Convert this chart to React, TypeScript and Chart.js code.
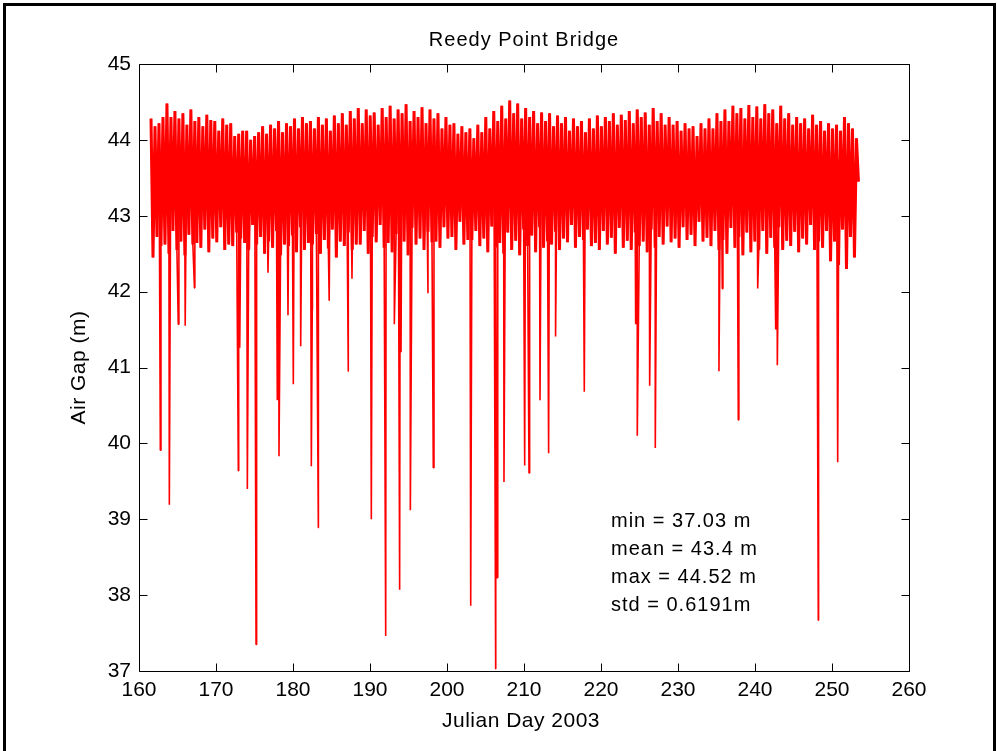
import { useEffect, useRef } from 'react';
import { Chart, registerables } from 'chart.js';

Chart.register(...registerables);

const TITLE = 'Reedy Point Bridge';
const X_LABEL = 'Julian Day 2003';
const Y_LABEL = 'Air Gap (m)';
const STATS_LINES = ['min = 37.03 m', 'mean = 43.4 m', 'max = 44.52 m', 'std = 0.6191m'];

const X_MIN = 160;
const X_MAX = 260;
const X_STEP = 10;
const Y_MIN = 37;
const Y_MAX = 45;
const Y_STEP = 1;

// sampling of the tidal extremes (day of first high water, half tidal cycle in days)
const TIDE_START_DAY = 161.56;
const HALF_TIDE_DAYS = 0.2588;

// successive high waters (m)
const HIGH_WATER = [
  44.28, 44.18, 44.22, 44.3, 44.48, 44.3, 44.38, 44.28, 44.35, 44.2,
  44.4, 44.25, 44.3, 44.18, 44.33, 44.26, 44.25, 44.12, 44.28, 44.2,
  44.22, 44.05, 44.08, 44.12, 44.12, 44.0, 44.05, 44.1, 44.18, 44.08,
  44.2, 44.15, 44.25, 44.1, 44.22, 44.18, 44.28, 44.15, 44.3, 44.22,
  44.25, 44.15, 44.3, 44.2, 44.28, 44.12, 44.32, 44.22, 44.35, 44.2,
  44.38, 44.28, 44.42, 44.22, 44.4, 44.32, 44.36, 44.2, 44.42, 44.3,
  44.45, 44.28, 44.4, 44.35, 44.47, 44.25, 44.38, 44.3, 44.43, 44.22,
  44.4, 44.28, 44.35, 44.15, 44.3, 44.2, 44.22, 44.08, 44.18, 44.1,
  44.15, 44.02, 44.2, 44.1, 44.3, 44.15, 44.38, 44.25, 44.45, 44.28,
  44.52, 44.35, 44.48, 44.28, 44.42, 44.3, 44.38, 44.22, 44.36, 44.25,
  44.35, 44.18, 44.32, 44.22, 44.3, 44.12, 44.28, 44.18, 44.25, 44.1,
  44.28, 44.15, 44.32, 44.18, 44.3, 44.25, 44.35, 44.2, 44.33, 44.26,
  44.38, 44.22, 44.4, 44.3, 44.36, 44.2, 44.42, 44.25, 44.35, 44.2,
  44.3, 44.2, 44.25, 44.12, 44.22, 44.15, 44.18, 44.05, 44.22, 44.15,
  44.28, 44.15, 44.35, 44.25, 44.4, 44.25, 44.45, 44.35, 44.42, 44.28,
  44.46, 44.3, 44.44, 44.28, 44.47, 44.35, 44.4, 44.22, 44.45, 44.28,
  44.35, 44.2, 44.3, 44.22, 44.28, 44.15, 44.33, 44.2, 44.25, 44.12,
  44.22, 44.15, 44.2, 44.12, 44.3, 44.22, 44.15, 44.02,
];

// successive low waters (m)
const LOW_WATER = [
  42.45, 42.72, 42.6, 42.62, 42.5, 42.8, 42.55, 42.66, 42.48, 42.75,
  42.62, 42.64, 42.58, 42.82, 42.52, 42.7, 42.65, 42.85, 42.55, 42.62,
  42.6, 42.78, 42.7, 42.64, 42.55, 42.88, 42.62, 42.72, 42.5, 42.66,
  42.58, 42.8, 42.48, 42.62, 42.6, 42.74, 42.52, 42.85, 42.55, 42.64,
  42.62, 42.76, 42.5, 42.68, 42.57, 42.82, 42.45, 42.66, 42.6, 42.78,
  42.55, 42.62, 42.62, 42.8, 42.5, 42.72, 42.65, 42.88, 42.58, 42.64,
  42.52, 42.76, 42.6, 42.66, 42.48, 42.84, 42.62, 42.7, 42.55, 42.79,
  42.65, 42.66, 42.58, 42.85, 42.7, 42.72, 42.55, 42.92, 42.62, 42.68,
  42.68, 42.8, 42.6, 42.7, 42.52, 42.86, 42.58, 42.64, 42.5, 42.78,
  42.55, 42.67, 42.48, 42.82, 42.6, 42.74, 42.52, 42.85, 42.58, 42.66,
  42.62, 42.79, 42.55, 42.7, 42.65, 42.88, 42.58, 42.72, 42.68, 42.82,
  42.6, 42.64, 42.55, 42.8, 42.62, 42.71, 42.5, 42.84, 42.58, 42.67,
  42.55, 42.78, 42.6, 42.66, 42.52, 42.82, 42.58, 42.72, 42.62, 42.86,
  42.65, 42.7, 42.58, 42.85, 42.68, 42.75, 42.6, 42.92, 42.66, 42.71,
  42.6, 42.8, 42.55, 42.68, 42.5, 42.84, 42.58, 42.72, 42.48, 42.78,
  42.52, 42.66, 42.55, 42.8, 42.5, 42.71, 42.58, 42.85, 42.55, 42.67,
  42.6, 42.79, 42.52, 42.7, 42.62, 42.88, 42.55, 42.66, 42.58, 42.8,
  42.4, 42.66, 42.35, 42.82, 42.3, 42.72, 42.45, 43.45,
];

// sensor drop-outs (day, m)
const DROPOUT_DAYS = [
  162.77, 163.94, 165.1, 166.0, 167.2, 172.9, 173.08, 174.07, 175.2, 176.75,
  177.96, 178.18, 179.35, 180.04, 181.0, 182.38, 182.5, 183.29, 184.7, 187.18,
  187.66, 190.17, 192.04, 193.16, 193.85, 194.03, 195.24, 197.53, 198.22, 203.08,
  206.32, 206.5, 207.4, 210.09, 210.65, 212.08, 213.2, 214.1, 217.83, 224.5,
  224.71, 226.32, 227.05, 235.32, 235.75, 237.83, 240.35, 242.69, 242.9, 248.22,
  250.74,
];
const DROPOUT_VALUES = [
  39.91, 39.19, 41.57, 41.55, 42.05, 39.64, 41.26, 39.4, 37.35, 42.25,
  40.57, 39.83, 41.69, 40.78, 41.28, 39.7, 41.76, 38.89, 41.88, 40.95,
  42.17, 39.0, 37.46, 41.57, 38.07, 41.2, 39.12, 41.98, 39.68, 37.86,
  37.03, 38.23, 39.49, 39.71, 39.61, 40.57, 39.87, 41.41, 40.68, 41.57,
  40.1, 40.76, 39.94, 40.95, 42.04, 40.31, 42.04, 41.5, 41.03, 37.67,
  39.75,
];

const FONT = '"Liberation Sans", Arial, sans-serif';

function tidePoints() {
  const pts: { x: number; y: number }[] = [];
  for (let i = 0; i < HIGH_WATER.length; i++) {
    pts.push({ x: TIDE_START_DAY + 2 * i * HALF_TIDE_DAYS, y: HIGH_WATER[i] });
    if (i < LOW_WATER.length) {
      pts.push({ x: TIDE_START_DAY + (2 * i + 1) * HALF_TIDE_DAYS, y: LOW_WATER[i] });
    }
  }
  return pts;
}

function fullRecord() {
  const pts = tidePoints();
  for (let i = 0; i < DROPOUT_DAYS.length; i++) {
    pts.push({ x: DROPOUT_DAYS[i], y: DROPOUT_VALUES[i] });
  }
  pts.sort((a, b) => a.x - b.x);
  return pts;
}

const framePlugin = {
  id: 'matlabFrame',
  afterDraw(chart: any) {
    const { ctx, chartArea } = chart;
    const xs = chart.scales.x;
    const ys = chart.scales.y;
    const L = Math.round(chartArea.left) + 0.5;
    const R = Math.round(chartArea.right) + 0.5;
    const T = Math.round(chartArea.top) + 0.5;
    const B = Math.round(chartArea.bottom) + 0.5;
    ctx.save();
    ctx.strokeStyle = '#000';
    ctx.lineWidth = 1;
    ctx.beginPath();
    ctx.rect(L, T, R - L, B - T);
    const tl = 8;
    xs.ticks.forEach((t: any) => {
      const px = Math.round(xs.getPixelForValue(t.value)) + 0.5;
      ctx.moveTo(px, B);
      ctx.lineTo(px, B - tl);
      ctx.moveTo(px, T);
      ctx.lineTo(px, T + tl);
    });
    ys.ticks.forEach((t: any) => {
      const py = Math.round(ys.getPixelForValue(t.value)) + 0.5;
      ctx.moveTo(L, py);
      ctx.lineTo(L + tl, py);
      ctx.moveTo(R, py);
      ctx.lineTo(R - tl, py);
    });
    ctx.stroke();

    ctx.fillStyle = '#000';
    const cx = (chartArea.left + chartArea.right) / 2;
    const cy = (chartArea.top + chartArea.bottom) / 2;
    try { (ctx as any).letterSpacing = '1px'; } catch (e) {}
    ctx.font = `20px ${FONT}`;
    ctx.textAlign = 'center';
    ctx.textBaseline = 'middle';
    ctx.fillText(TITLE, cx, 40);

    ctx.font = `21px ${FONT}`;
    try { (ctx as any).letterSpacing = '0.5px'; } catch (e) {}
    ctx.fillText(X_LABEL, cx - 3, 721);

    ctx.save();
    ctx.translate(79, cy);
    ctx.rotate(-Math.PI / 2);
    ctx.fillText(Y_LABEL, 0, 0);
    ctx.restore();

    ctx.font = `20px ${FONT}`;
    try { (ctx as any).letterSpacing = '1px'; } catch (e) {}
    ctx.textAlign = 'left';
    ctx.textBaseline = 'alphabetic';
    STATS_LINES.forEach((s, i) => {
      ctx.fillText(s, 611, 527 + i * 28);
    });
    ctx.restore();
  },
};

export default function App() {
  const ref = useRef<HTMLCanvasElement | null>(null);
  useEffect(() => {
    if (!ref.current) return;
    const chart = new Chart(ref.current, {
      type: 'scatter',
      data: {
        datasets: [
          {
            // full record including drop-outs
            data: fullRecord(),
            showLine: true,
            borderColor: '#ff0000',
            backgroundColor: '#ff0000',
            borderWidth: 1.6,
            borderJoinStyle: 'bevel',
            pointRadius: 0,
            pointHoverRadius: 0,
            tension: 0,
          },
          {
            // tidal signal rendered densely (emulates the 6-min sampling)
            data: tidePoints(),
            showLine: true,
            borderColor: '#ff0000',
            backgroundColor: '#ff0000',
            borderWidth: 3,
            borderJoinStyle: 'bevel',
            pointRadius: 0,
            pointHoverRadius: 0,
            tension: 0,
          },
        ],
      },
      options: {
        responsive: false,
        animation: false,
        events: [],
        layout: { padding: { left: 0, top: 64, right: 88, bottom: 0 } },
        plugins: {
          legend: { display: false },
          title: { display: false },
          tooltip: { enabled: false },
        },
        scales: {
          x: {
            type: 'linear',
            min: X_MIN,
            max: X_MAX,
            grid: { display: false, drawTicks: false },
            border: { display: false },
            ticks: {
              stepSize: X_STEP,
              color: '#000',
              padding: 7,
              maxRotation: 0,
              font: { family: FONT, size: 21 },
            },
            afterFit(scale: any) {
              scale.height = 80;
            },
          },
          y: {
            type: 'linear',
            min: Y_MIN,
            max: Y_MAX,
            grid: { display: false, drawTicks: false },
            border: { display: false },
            ticks: {
              stepSize: Y_STEP,
              color: '#000',
              padding: 8,
              font: { family: FONT, size: 21 },
            },
            afterFit(scale: any) {
              scale.width = 139;
            },
          },
        },
      },
      plugins: [framePlugin],
    });
    return () => chart.destroy();
  }, []);

  return (
    <div style={{ position: 'fixed', left: 0, top: 0, width: 997, height: 751, background: '#fff' }}>
      <canvas ref={ref} width={997} height={751} style={{ display: 'block', width: 997, height: 751 }} />
      <div
        style={{
          position: 'absolute',
          left: 3,
          top: 3,
          width: 987,
          height: 760,
          borderTop: '3px solid #000',
          borderLeft: '3px solid #000',
          borderRight: '3px solid #000',
          pointerEvents: 'none',
        }}
      />
    </div>
  );
}
